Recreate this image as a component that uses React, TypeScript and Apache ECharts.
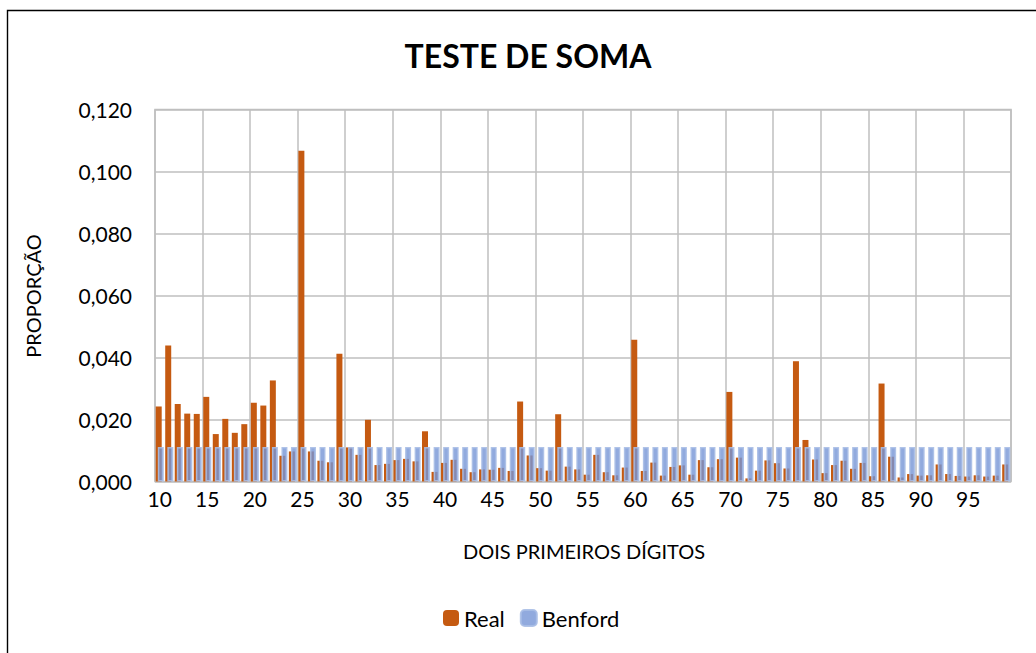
import React, { useEffect, useRef } from "react";
import * as echarts from "echarts";

const categories = [
  "10","11","12","13","14","15","16","17","18","19",
  "20","21","22","23","24","25","26","27","28","29",
  "30","31","32","33","34","35","36","37","38","39",
  "40","41","42","43","44","45","46","47","48","49",
  "50","51","52","53","54","55","56","57","58","59",
  "60","61","62","63","64","65","66","67","68","69",
  "70","71","72","73","74","75","76","77","78","79",
  "80","81","82","83","84","85","86","87","88","89",
  "90","91","92","93","94","95","96","97","98","99",
];

const real = [
  0.0242, 0.0439, 0.025, 0.0219, 0.0218, 0.0273, 0.0153, 0.0202, 0.0157, 0.0185,
  0.0254, 0.0245, 0.0326, 0.0083, 0.0097, 0.1067, 0.0097, 0.0067, 0.0062, 0.0412,
  0.011, 0.0086, 0.0199, 0.0053, 0.0057, 0.0069, 0.0073, 0.0065, 0.0162, 0.0031,
  0.006, 0.007, 0.0041, 0.003, 0.0039, 0.0038, 0.0044, 0.0034, 0.0258, 0.0084,
  0.0043, 0.0035, 0.0217, 0.0048, 0.0039, 0.0022, 0.0086, 0.003, 0.002, 0.0045,
  0.0457, 0.0034, 0.0061, 0.0019, 0.0047, 0.0052, 0.0022, 0.0069, 0.0046, 0.0072,
  0.0289, 0.0077, 0.001, 0.0035, 0.0068, 0.0059, 0.0042, 0.0388, 0.0134, 0.0071,
  0.0027, 0.0053, 0.0067, 0.0041, 0.006, 0.0017, 0.0316, 0.008, 0.0013, 0.0024,
  0.0019, 0.002, 0.0055, 0.0024, 0.0018, 0.0016, 0.002, 0.0016, 0.0019, 0.0055,
];

const benford = [
  0.0111, 0.0111, 0.0111, 0.0111, 0.0111, 0.0111, 0.0111, 0.0111, 0.0111, 0.0111,
  0.0111, 0.0111, 0.0111, 0.0111, 0.0111, 0.0111, 0.0111, 0.0111, 0.0111, 0.0111,
  0.0111, 0.0111, 0.0111, 0.0111, 0.0111, 0.0111, 0.0111, 0.0111, 0.0111, 0.0111,
  0.0111, 0.0111, 0.0111, 0.0111, 0.0111, 0.0111, 0.0111, 0.0111, 0.0111, 0.0111,
  0.0111, 0.0111, 0.0111, 0.0111, 0.0111, 0.0111, 0.0111, 0.0111, 0.0111, 0.0111,
  0.0111, 0.0111, 0.0111, 0.0111, 0.0111, 0.0111, 0.0111, 0.0111, 0.0111, 0.0111,
  0.0111, 0.0111, 0.0111, 0.0111, 0.0111, 0.0111, 0.0111, 0.0111, 0.0111, 0.0111,
  0.0111, 0.0111, 0.0111, 0.0111, 0.0111, 0.0111, 0.0111, 0.0111, 0.0111, 0.0111,
  0.0111, 0.0111, 0.0111, 0.0111, 0.0111, 0.0111, 0.0111, 0.0111, 0.0111, 0.0111,
];

const FONT = "Lato, 'Open Sans', sans-serif";
const GRID_COLOR = "#bfbfbf";

export default function App() {
  const ref = useRef<HTMLDivElement>(null);
  useEffect(() => {
    if (!ref.current) return;
    const chart = echarts.init(ref.current, null, { renderer: "svg" });
    chart.setOption({
      animation: false,
      backgroundColor: "#ffffff",
      textStyle: { fontFamily: FONT },
      grid: {
        left: 155,
        top: 109.5,
        width: 856,
        height: 372,
        show: true,
        borderColor: GRID_COLOR,
        borderWidth: 1.5,
        containLabel: false,
      },
      graphic: [
        {
          type: "rect",
          shape: { x: 7.5, y: 10.5, width: 1200, height: 800 },
          style: { fill: "none", stroke: "#000000", lineWidth: 1.4 },
          silent: true,
        },
        {
          type: "text",
          x: 528,
          y: 55,
          style: {
            text: "TESTE DE SOMA",
            font: `bold 32px ${FONT}`,
            fill: "#000000",
            textAlign: "center",
            textVerticalAlign: "middle",
          },
        },
        {
          type: "text",
          x: 33,
          y: 296,
          rotation: Math.PI / 2,
          style: {
            text: "PROPORÇÃO",
            font: `20px ${FONT}`,
            fill: "#000000",
            textAlign: "center",
            textVerticalAlign: "middle",
          },
        },
        {
          type: "text",
          x: 584,
          y: 551,
          style: {
            text: "DOIS PRIMEIROS DÍGITOS",
            font: `20px ${FONT}`,
            fill: "#000000",
            textAlign: "center",
            textVerticalAlign: "middle",
          },
        },
      ],
      legend: {
        left: 438,
        top: 602,
        itemWidth: 16,
        itemHeight: 16,
        itemGap: 15,
        textStyle: { fontFamily: FONT, fontSize: 22, color: "#000000" },
        data: ["Real", "Benford"],
      },
      xAxis: {
        type: "category",
        data: categories,
        boundaryGap: true,
        axisLine: { show: false },
        axisTick: { show: false, interval: 4 },
        axisLabel: {
          interval: 4,
          margin: 6,
          fontFamily: FONT,
          fontSize: 21,
          color: "#000000",
        },
        splitLine: {
          show: true,
          interval: 4,
          lineStyle: { color: GRID_COLOR, width: 1.5 },
        },
      },
      yAxis: {
        type: "value",
        min: 0,
        max: 0.12,
        interval: 0.02,
        axisLine: { show: false },
        axisTick: { show: false },
        axisLabel: {
          margin: 23,
          fontFamily: FONT,
          fontSize: 21,
          color: "#000000",
          formatter: (v: number) => v.toFixed(3).replace(".", ","),
        },
        splitLine: { show: true, lineStyle: { color: GRID_COLOR, width: 1.5 } },
      },
      series: [
        {
          name: "Real",
          type: "bar",
          data: real,
          barWidth: 6,
          barGap: "-65%",
          itemStyle: { color: "#c55a11" },
        },
        {
          name: "Benford",
          type: "bar",
          data: benford,
          barWidth: 6,
          itemStyle: {
            color: "rgba(118,149,214,0.8)",
            borderColor: "rgba(168,190,230,0.9)",
            borderWidth: 1.5,
          },
        },
      ],
    });
    return () => chart.dispose();
  }, []);
  return (
    <div
      ref={ref}
      style={{ position: "absolute", left: 0, top: 0, width: 1036, height: 653 }}
    />
  );
}
